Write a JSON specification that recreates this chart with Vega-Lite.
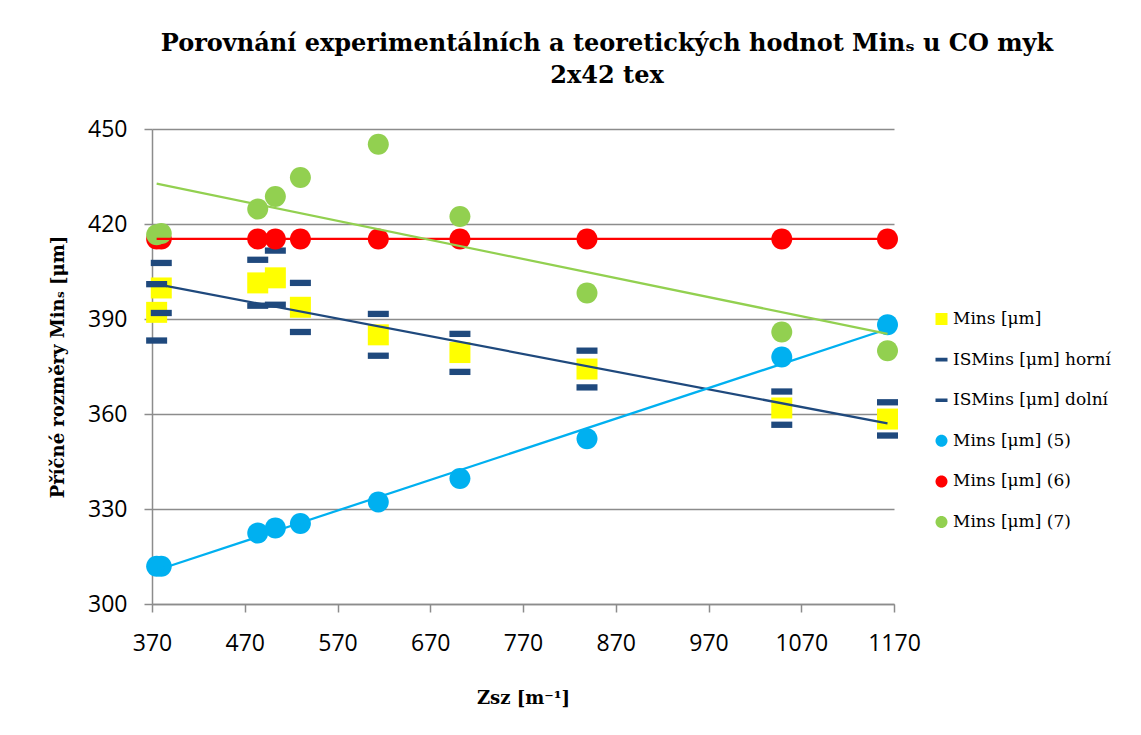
{
  "$schema": "https://vega.github.io/schema/vega-lite/v6.json",
  "width": 742,
  "height": 475,
  "autosize": {"type": "none"},
  "padding": {"left": 152, "top": 129, "right": 247, "bottom": 131},
  "background": "#ffffff",
  "title": {
    "text": ["Porovnání experimentálních a teoretických hodnot Minₛ u CO myk", "2x42 tex"],
    "font": "DejaVu Serif",
    "fontSize": 24,
    "fontWeight": "bold",
    "color": "#000000",
    "anchor": "middle",
    "frame": "group",
    "dx": 84,
    "offset": 30,
    "lineHeight": 32
  },
  "config": {
    "view": {"stroke": null},
    "axis": {
      "labelFont": "Open Sans",
      "labelFontSize": 23,
      "labelColor": "#000000",
      "titleFont": "DejaVu Serif",
      "titleFontSize": 18,
      "titleFontWeight": "bold",
      "titleColor": "#000000",
      "domainColor": "#8c8c8c",
      "domainWidth": 1.5,
      "tickColor": "#8c8c8c",
      "tickWidth": 1.5,
      "tickSize": 8,
      "gridColor": "#8c8c8c",
      "gridWidth": 1.5
    },
    "legend": {
      "labelFont": "DejaVu Serif",
      "labelFontSize": 17,
      "labelLimit": 400,
      "labelColor": "#000000",
      "symbolSize": 144,
      "symbolStrokeWidth": 0
    }
  },
  "data": {
    "values": [
      {"x": 375, "y": 392.1, "s": "Mins [μm]"},
      {"x": 380, "y": 399.8, "s": "Mins [μm]"},
      {"x": 484, "y": 401.4, "s": "Mins [μm]"},
      {"x": 503, "y": 403.0, "s": "Mins [μm]"},
      {"x": 530, "y": 393.7, "s": "Mins [μm]"},
      {"x": 614, "y": 385.0, "s": "Mins [μm]"},
      {"x": 702, "y": 379.4, "s": "Mins [μm]"},
      {"x": 839, "y": 374.2, "s": "Mins [μm]"},
      {"x": 1049, "y": 361.9, "s": "Mins [μm]"},
      {"x": 1163, "y": 358.4, "s": "Mins [μm]"},
      {"x": 375, "y": 401.0, "s": "ISMins [μm] horní"},
      {"x": 380, "y": 407.7, "s": "ISMins [μm] horní"},
      {"x": 484, "y": 408.7, "s": "ISMins [μm] horní"},
      {"x": 503, "y": 411.6, "s": "ISMins [μm] horní"},
      {"x": 530, "y": 401.4, "s": "ISMins [μm] horní"},
      {"x": 614, "y": 391.6, "s": "ISMins [μm] horní"},
      {"x": 702, "y": 385.3, "s": "ISMins [μm] horní"},
      {"x": 839, "y": 380.0, "s": "ISMins [μm] horní"},
      {"x": 1049, "y": 367.1, "s": "ISMins [μm] horní"},
      {"x": 1163, "y": 363.7, "s": "ISMins [μm] horní"},
      {"x": 375, "y": 383.2, "s": "ISMins [μm] dolní"},
      {"x": 380, "y": 391.9, "s": "ISMins [μm] dolní"},
      {"x": 484, "y": 394.2, "s": "ISMins [μm] dolní"},
      {"x": 503, "y": 394.5, "s": "ISMins [μm] dolní"},
      {"x": 530, "y": 385.9, "s": "ISMins [μm] dolní"},
      {"x": 614, "y": 378.4, "s": "ISMins [μm] dolní"},
      {"x": 702, "y": 373.3, "s": "ISMins [μm] dolní"},
      {"x": 839, "y": 368.4, "s": "ISMins [μm] dolní"},
      {"x": 1049, "y": 356.6, "s": "ISMins [μm] dolní"},
      {"x": 1163, "y": 353.2, "s": "ISMins [μm] dolní"},
      {"x": 375, "y": 311.9, "s": "Mins [μm] (5)"},
      {"x": 380, "y": 311.9, "s": "Mins [μm] (5)"},
      {"x": 484, "y": 322.4, "s": "Mins [μm] (5)"},
      {"x": 503, "y": 324.0, "s": "Mins [μm] (5)"},
      {"x": 530, "y": 325.4, "s": "Mins [μm] (5)"},
      {"x": 614, "y": 332.2, "s": "Mins [μm] (5)"},
      {"x": 702, "y": 339.6, "s": "Mins [μm] (5)"},
      {"x": 839, "y": 352.2, "s": "Mins [μm] (5)"},
      {"x": 1049, "y": 378.0, "s": "Mins [μm] (5)"},
      {"x": 1163, "y": 388.2, "s": "Mins [μm] (5)"},
      {"x": 375, "y": 415.3, "s": "Mins [μm] (6)"},
      {"x": 380, "y": 415.3, "s": "Mins [μm] (6)"},
      {"x": 484, "y": 415.3, "s": "Mins [μm] (6)"},
      {"x": 503, "y": 415.3, "s": "Mins [μm] (6)"},
      {"x": 530, "y": 415.3, "s": "Mins [μm] (6)"},
      {"x": 614, "y": 415.3, "s": "Mins [μm] (6)"},
      {"x": 702, "y": 415.3, "s": "Mins [μm] (6)"},
      {"x": 839, "y": 415.3, "s": "Mins [μm] (6)"},
      {"x": 1049, "y": 415.3, "s": "Mins [μm] (6)"},
      {"x": 1163, "y": 415.3, "s": "Mins [μm] (6)"},
      {"x": 375, "y": 416.6, "s": "Mins [μm] (7)"},
      {"x": 380, "y": 417.0, "s": "Mins [μm] (7)"},
      {"x": 484, "y": 424.7, "s": "Mins [μm] (7)"},
      {"x": 503, "y": 428.7, "s": "Mins [μm] (7)"},
      {"x": 530, "y": 434.7, "s": "Mins [μm] (7)"},
      {"x": 614, "y": 445.2, "s": "Mins [μm] (7)"},
      {"x": 702, "y": 422.4, "s": "Mins [μm] (7)"},
      {"x": 839, "y": 398.2, "s": "Mins [μm] (7)"},
      {"x": 1049, "y": 385.9, "s": "Mins [μm] (7)"},
      {"x": 1163, "y": 380.0, "s": "Mins [μm] (7)"}
    ]
  },
  "encoding": {
    "x": {
      "field": "x",
      "type": "quantitative",
      "scale": {"domain": [370, 1170], "nice": false, "zero": false},
      "axis": {
        "title": "Zsz  [m⁻¹]",
        "values": [370, 470, 570, 670, 770, 870, 970, 1070, 1170],
        "format": "d",
        "grid": false,
        "labelPadding": 20,
        "titlePadding": 34,
        "labelFlush": false
      }
    },
    "y": {
      "field": "y",
      "type": "quantitative",
      "scale": {"domain": [300, 450], "nice": false, "zero": false},
      "axis": {
        "title": "Příčné rozměry Minₛ [μm]",
        "values": [300, 330, 360, 390, 420, 450],
        "format": "d",
        "grid": true,
        "labelPadding": 17,
        "titlePadding": 20
      }
    }
  },
  "layer": [
    {
      "mark": {"type": "point", "filled": true, "size": 441, "opacity": 1, "strokeWidth": 0},
      "encoding": {
        "color": {
          "field": "s",
          "type": "nominal",
          "scale": {
            "domain": ["Mins [μm]", "ISMins [μm] horní", "ISMins [μm] dolní", "Mins [μm] (5)", "Mins [μm] (6)", "Mins [μm] (7)"],
            "range": ["#FFFF00", "#1F497D", "#1F497D", "#00B0F0", "#FF0000", "#92D050"]
          },
          "legend": {
            "title": null,
            "orient": "none",
            "legendX": 781,
            "legendY": 180,
            "padding": 0,
            "clipHeight": 20,
            "rowPadding": 20.6,
            "labelOffset": 3
          }
        },
        "shape": {
          "field": "s",
          "type": "nominal",
          "scale": {
            "domain": ["Mins [μm]", "ISMins [μm] horní", "ISMins [μm] dolní", "Mins [μm] (5)", "Mins [μm] (6)", "Mins [μm] (7)"],
            "range": [
              "M-1,-1H1V1H-1Z",
              "M-1,-0.3H1V0.3H-1Z",
              "M-1,-0.3H1V0.3H-1Z",
              "M1,0A1,1,0,1,1,-1,0A1,1,0,1,1,1,0Z",
              "M1,0A1,1,0,1,1,-1,0A1,1,0,1,1,1,0Z",
              "M1,0A1,1,0,1,1,-1,0A1,1,0,1,1,1,0Z"
            ]
          },
          "legend": {
            "title": null,
            "orient": "none",
            "legendX": 781,
            "legendY": 180,
            "padding": 0,
            "clipHeight": 20,
            "rowPadding": 20.6,
            "labelOffset": 3
          }
        }
      }
    },
    {
      "transform": [
        {"filter": "datum.s === 'Mins [μm]'"},
        {"regression": "y", "on": "x"}
      ],
      "mark": {"type": "line", "color": "#1F497D", "strokeWidth": 2.25},
      "encoding": {}
    },
    {
      "transform": [
        {"filter": "datum.s === 'Mins [μm] (5)'"},
        {"regression": "y", "on": "x"}
      ],
      "mark": {"type": "line", "color": "#00B0F0", "strokeWidth": 2.25},
      "encoding": {}
    },
    {
      "transform": [
        {"filter": "datum.s === 'Mins [μm] (6)'"},
        {"regression": "y", "on": "x"}
      ],
      "mark": {"type": "line", "color": "#FF0000", "strokeWidth": 2.25},
      "encoding": {}
    },
    {
      "transform": [
        {"filter": "datum.s === 'Mins [μm] (7)'"},
        {"regression": "y", "on": "x"}
      ],
      "mark": {"type": "line", "color": "#92D050", "strokeWidth": 2.25},
      "encoding": {}
    }
  ]
}
